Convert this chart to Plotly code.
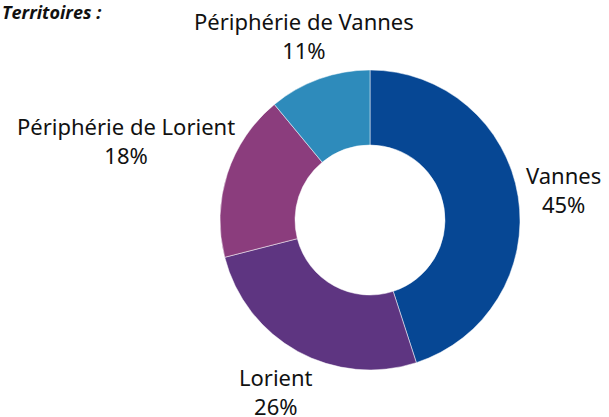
import math
import plotly.graph_objects as go

# territoires
labels = ["Vannes", "Lorient", "Périphérie de Lorient", "Périphérie de Vannes"]
valeurs = [45, 26, 18, 11]
couleurs = ["#064794", "#5e3581", "#8b3d7d", "#2e8bbb"]

W, H = 609, 417
cx, cy, r = 370, 220, 150   # centre et rayon du donut (px)
taille = 22

fig = go.Figure()

fig.add_trace(go.Pie(
    labels=labels,
    values=valeurs,
    hole=0.5,
    sort=False,
    direction="clockwise",
    rotation=0,
    marker=dict(colors=couleurs, line=dict(color="white", width=0.5)),
    textinfo="none",
    domain=dict(x=[(cx - r) / W, (cx + r) / W], y=[(H - cy - r) / H, (H - cy + r) / H]),
    showlegend=False,
))

# étiquettes à l'extérieur, placées sur l'angle médian de chaque part
total = sum(valeurs)
cumul = 0
for lab, v in zip(labels, valeurs):
    mid = (cumul + v / 2) / total * 2 * math.pi
    cumul += v
    vx, vy = math.sin(mid), -math.cos(mid)
    larg = len(lab) * 10.6
    dist = r + 46 + max(0, larg / 2 * abs(vx) - 45)
    px, py = cx + dist * vx, cy + dist * vy
    fig.add_annotation(
        text=f"{lab}<br>{round(v / total * 100)}%",
        x=px / W, y=1 - py / H, xref="paper", yref="paper",
        xanchor="center", yanchor="middle", showarrow=False,
        font=dict(family="Noto Sans, Open Sans", size=taille, color="#111111"),
    )

fig.add_annotation(
    text="<b><i>Territoires :</i></b>",
    x=0, y=1.005, xref="paper", yref="paper",
    xanchor="left", yanchor="top", showarrow=False,
    font=dict(family="Open Sans, Noto Sans", size=18, color="#111111"),
)

fig.update_layout(
    width=W, height=H,
    margin=dict(l=0, r=0, t=0, b=0),
    paper_bgcolor="white",
    plot_bgcolor="white",
)

fig.write_html("out.html", config={"displayModeBar": False},
               post_script="document.body.style.margin='0';")
